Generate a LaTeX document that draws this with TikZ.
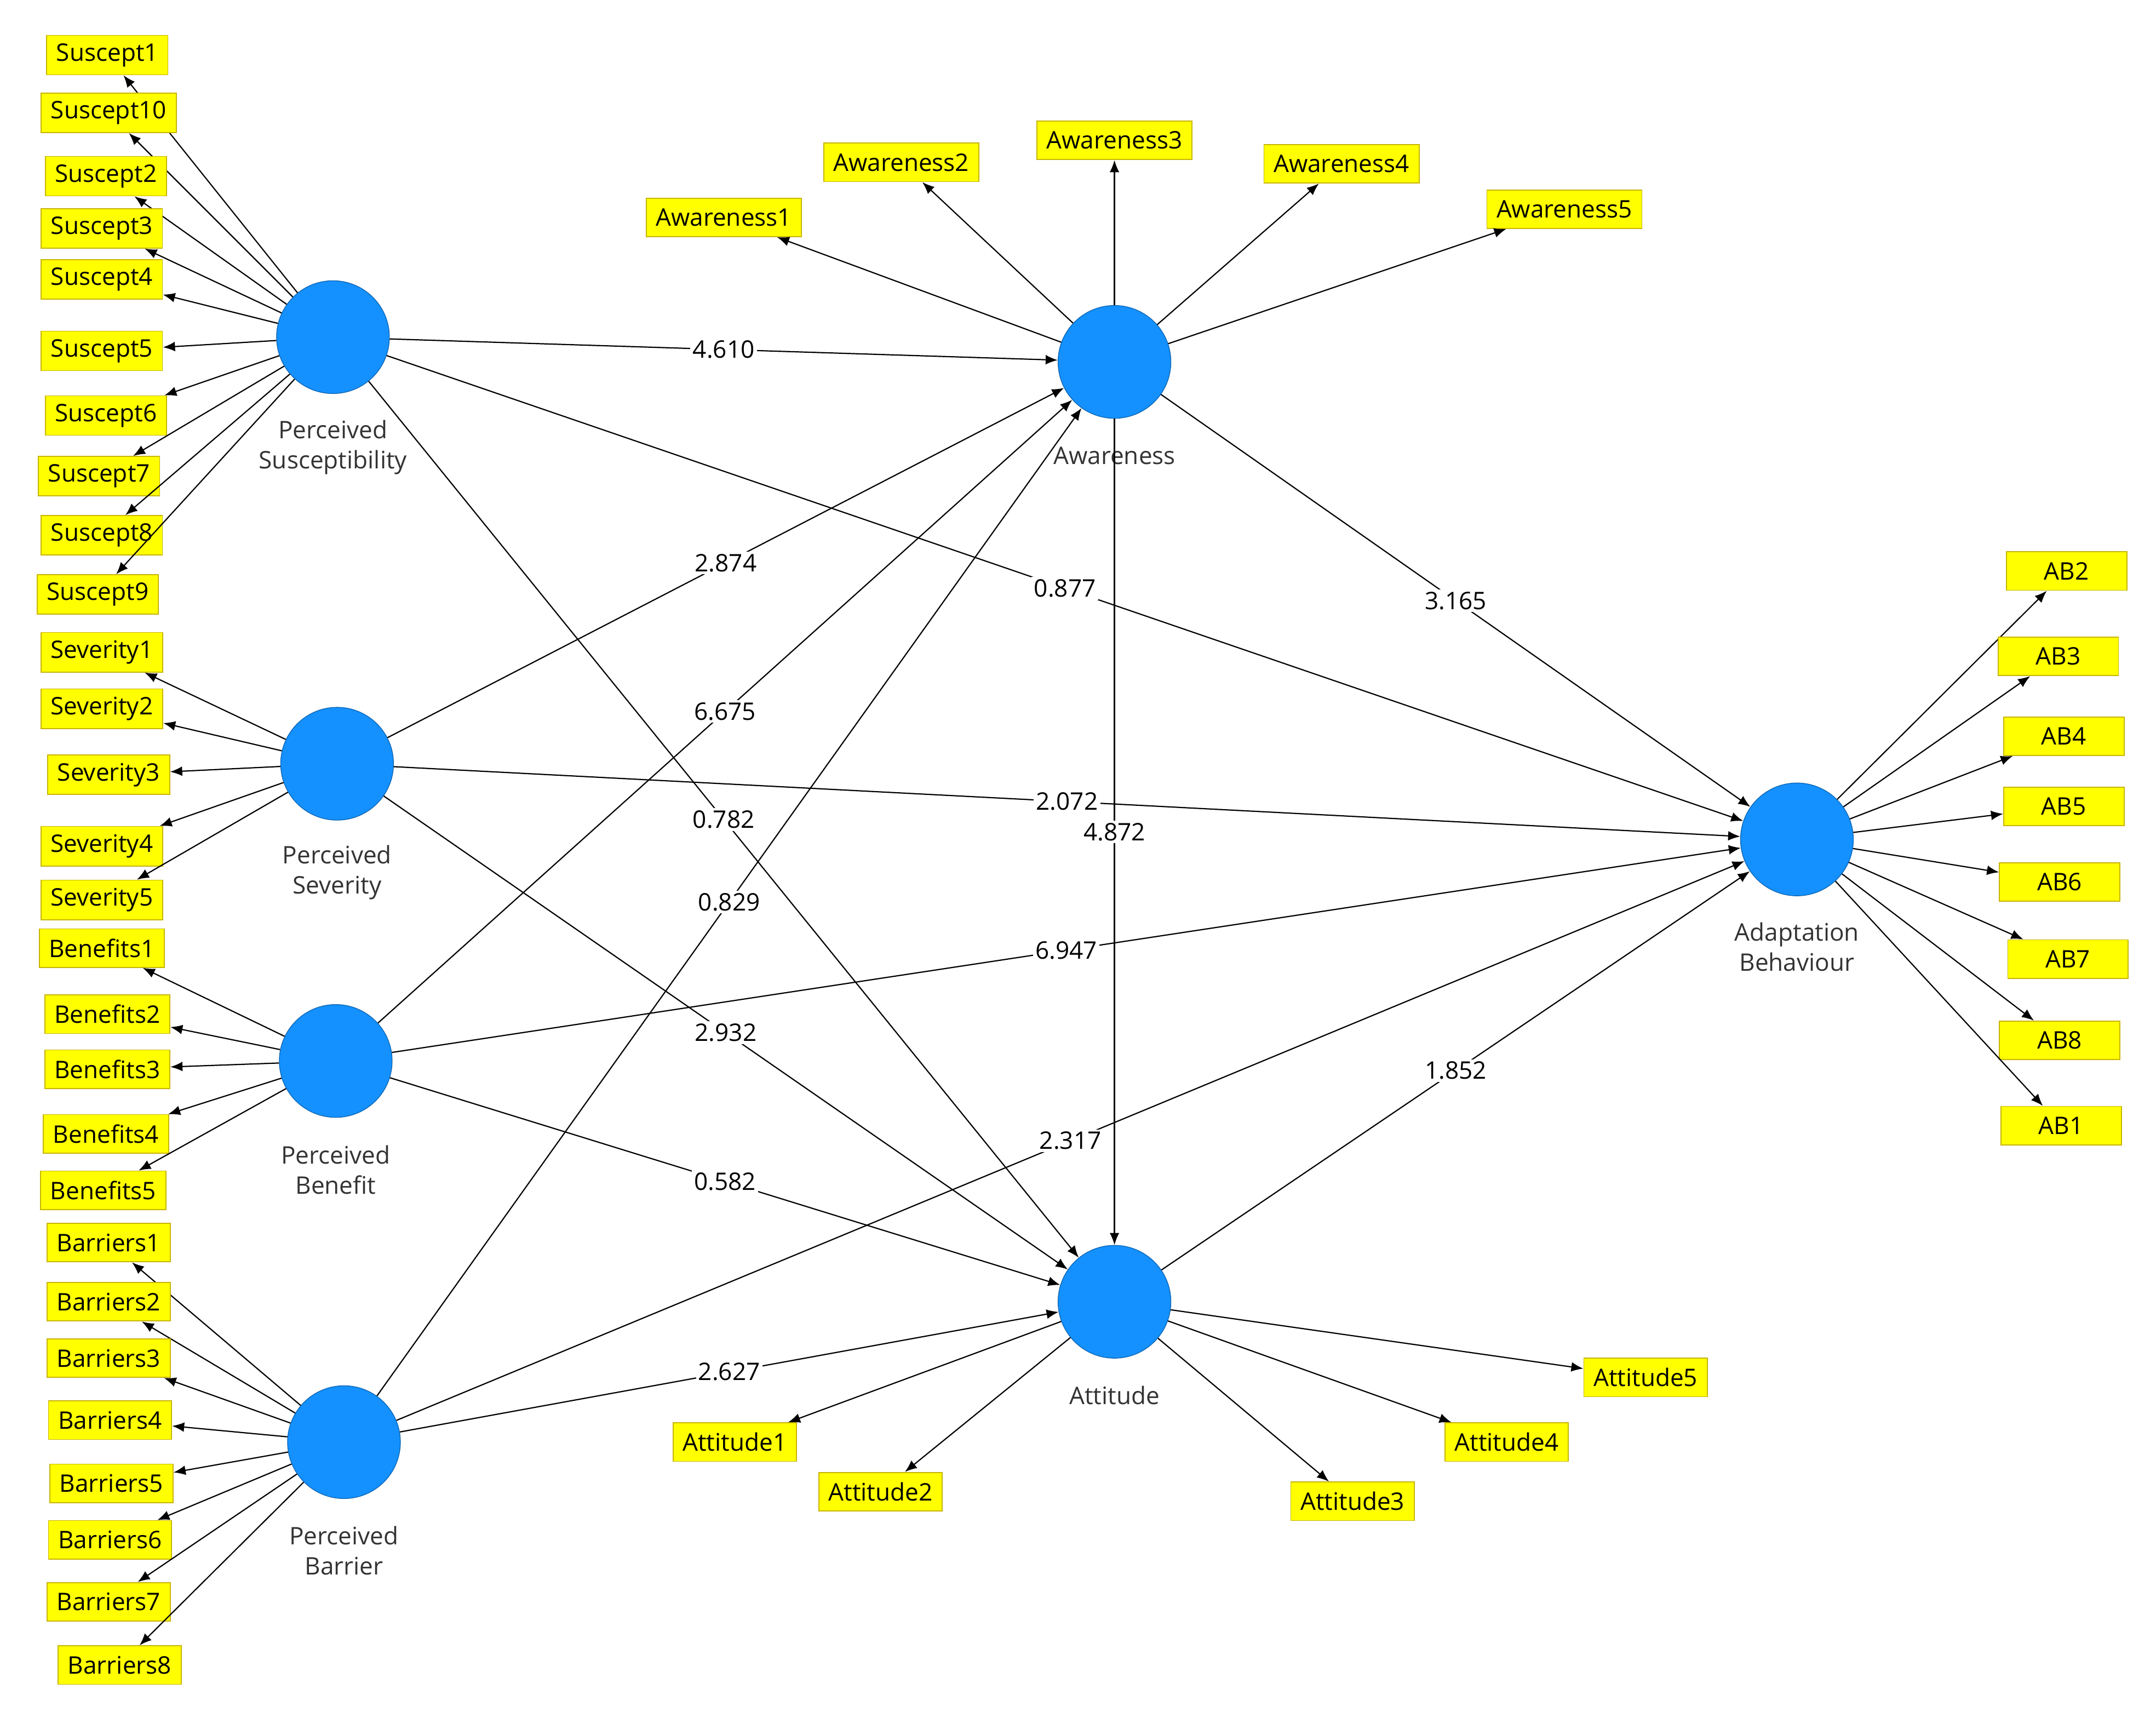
\documentclass[tikz,border=0pt]{standalone}
\usepackage{fontspec}
\setmainfont{Open Sans}
\usetikzlibrary{arrows.meta}
\definecolor{cblue}{RGB}{20,145,255}
\definecolor{ybox}{RGB}{255,255,0}
\definecolor{yborder}{RGB}{200,180,0}
\begin{document}
\begin{tikzpicture}[x=0.02cm,y=-0.02cm,
  lv/.style={circle,fill=cblue,draw=cblue!70!black,line width=0.3pt,minimum size=1.64cm,inner sep=0},
  ind/.style={rectangle,fill=ybox,draw=yborder,line width=0.4pt,minimum height=0.56cm,inner xsep=4pt,font=\fontsize{10}{12}\selectfont},
  lab/.style={align=center,font=\fontsize{10}{12.5}\selectfont,text=black!80},
  ar/.style={-{Latex[length=5pt,width=4pt]},line width=0.5pt},
  w/.style={pos=0.5,fill=white,inner sep=1pt,font=\fontsize{10}{12}\selectfont}]
\useasboundingbox (0,0) rectangle (1567,1244);
% latent variables
\node[lv] (PS) at (242,245) {};
\node[lv] (AW) at (810,263) {};
\node[lv] (SV) at (245,555) {};
\node[lv] (BN) at (244,771) {};
\node[lv] (BR) at (250,1048) {};
\node[lv] (AT) at (810,946) {};
\node[lv] (AB) at (1306,610) {};
\node[lab] (lPS) at (242,325) {Perceived\\Susceptibility};
\node[lab] (lAW) at (810,331) {Awareness};
\node[lab] (lSV) at (245,634) {Perceived\\Severity};
\node[lab] (lBN) at (244,850) {Perceived\\Benefit};
\node[lab] (lBR) at (250,1127) {Perceived\\Barrier};
\node[lab] (lAT) at (810,1014) {Attitude};
\node[lab] (lAB) at (1306,688) {Adaptation\\Behaviour};
% indicators
\foreach \n/\t/\x/\y in {s1/Suscept1/78/40, s10/Suscept10/79/82, s2/Suscept2/77/128, s3/Suscept3/74/166, s4/Suscept4/74/203, s5/Suscept5/74/255, s6/Suscept6/77/302, s7/Suscept7/72/346, s8/Suscept8/74/389, s9/Suscept9/71/432}
  {\node[ind] (\n) at (\x,\y) {\t}; \draw[ar] (PS) -- (\n);}
\foreach \n/\t/\x/\y in {v1/Severity1/74/474, v2/Severity2/74/515, v3/Severity3/79/563, v4/Severity4/74/615, v5/Severity5/74/654}
  {\node[ind] (\n) at (\x,\y) {\t}; \draw[ar] (SV) -- (\n);}
\foreach \n/\t/\x/\y in {b1/Benefits1/74/689, b2/Benefits2/78/737, b3/Benefits3/78/777, b4/Benefits4/77/824, b5/Benefits5/75/865}
  {\node[ind] (\n) at (\x,\y) {\t}; \draw[ar] (BN) -- (\n);}
\foreach \n/\t/\x/\y in {r1/Barriers1/79/903, r2/Barriers2/79/946, r3/Barriers3/79/987, r4/Barriers4/80/1032, r5/Barriers5/81/1078, r6/Barriers6/80/1119, r7/Barriers7/79/1164, r8/Barriers8/87/1210}
  {\node[ind] (\n) at (\x,\y) {\t}; \draw[ar] (BR) -- (\n);}
\foreach \n/\t/\x/\y in {a1/Awareness1/526/158, a2/Awareness2/655/118, a3/Awareness3/810/102, a4/Awareness4/975/119, a5/Awareness5/1137/152}
  {\node[ind] (\n) at (\x,\y) {\t}; \draw[ar] (AW) -- (\n);}
\foreach \n/\t/\x/\y in {t1/Attitude1/534/1048, t2/Attitude2/640/1084, t3/Attitude3/983/1091, t4/Attitude4/1095/1048, t5/Attitude5/1196/1001}
  {\node[ind] (\n) at (\x,\y) {\t}; \draw[ar] (AT) -- (\n);}
\foreach \n/\t/\x/\y in {ab2/AB2/1502/415, ab3/AB3/1496/477, ab4/AB4/1500/535, ab5/AB5/1500/586, ab6/AB6/1497/641, ab7/AB7/1503/697, ab8/AB8/1497/756, ab1/AB1/1498/818}
  {\node[ind,minimum width=1.75cm] (\n) at (\x,\y) {\t}; \draw[ar] (AB) -- (\n);}
% structural paths
\draw[ar] (PS) -- node[w]{4.610} (AW);
\draw[ar] (SV) -- node[w]{2.874} (AW);
\draw[ar] (BN) -- node[w]{6.675} (AW);
\draw[ar] (BR) -- node[w]{0.829} (AW);
\draw[ar] (PS) -- node[w]{0.877} (AB);
\draw[ar] (SV) -- node[w]{2.072} (AB);
\draw[ar] (BN) -- node[w]{6.947} (AB);
\draw[ar] (BR) -- node[w]{2.317} (AB);
\draw[ar] (PS) -- node[w]{0.782} (AT);
\draw[ar] (SV) -- node[w]{2.932} (AT);
\draw[ar] (BN) -- node[w]{0.582} (AT);
\draw[ar] (BR) -- node[w]{2.627} (AT);
\draw[ar] (AW) -- node[w]{3.165} (AB);
\draw[ar] (AT) -- node[w]{1.852} (AB);
\draw[ar] (AW) -- node[w]{4.872} (AT);
\end{tikzpicture}
\end{document}
